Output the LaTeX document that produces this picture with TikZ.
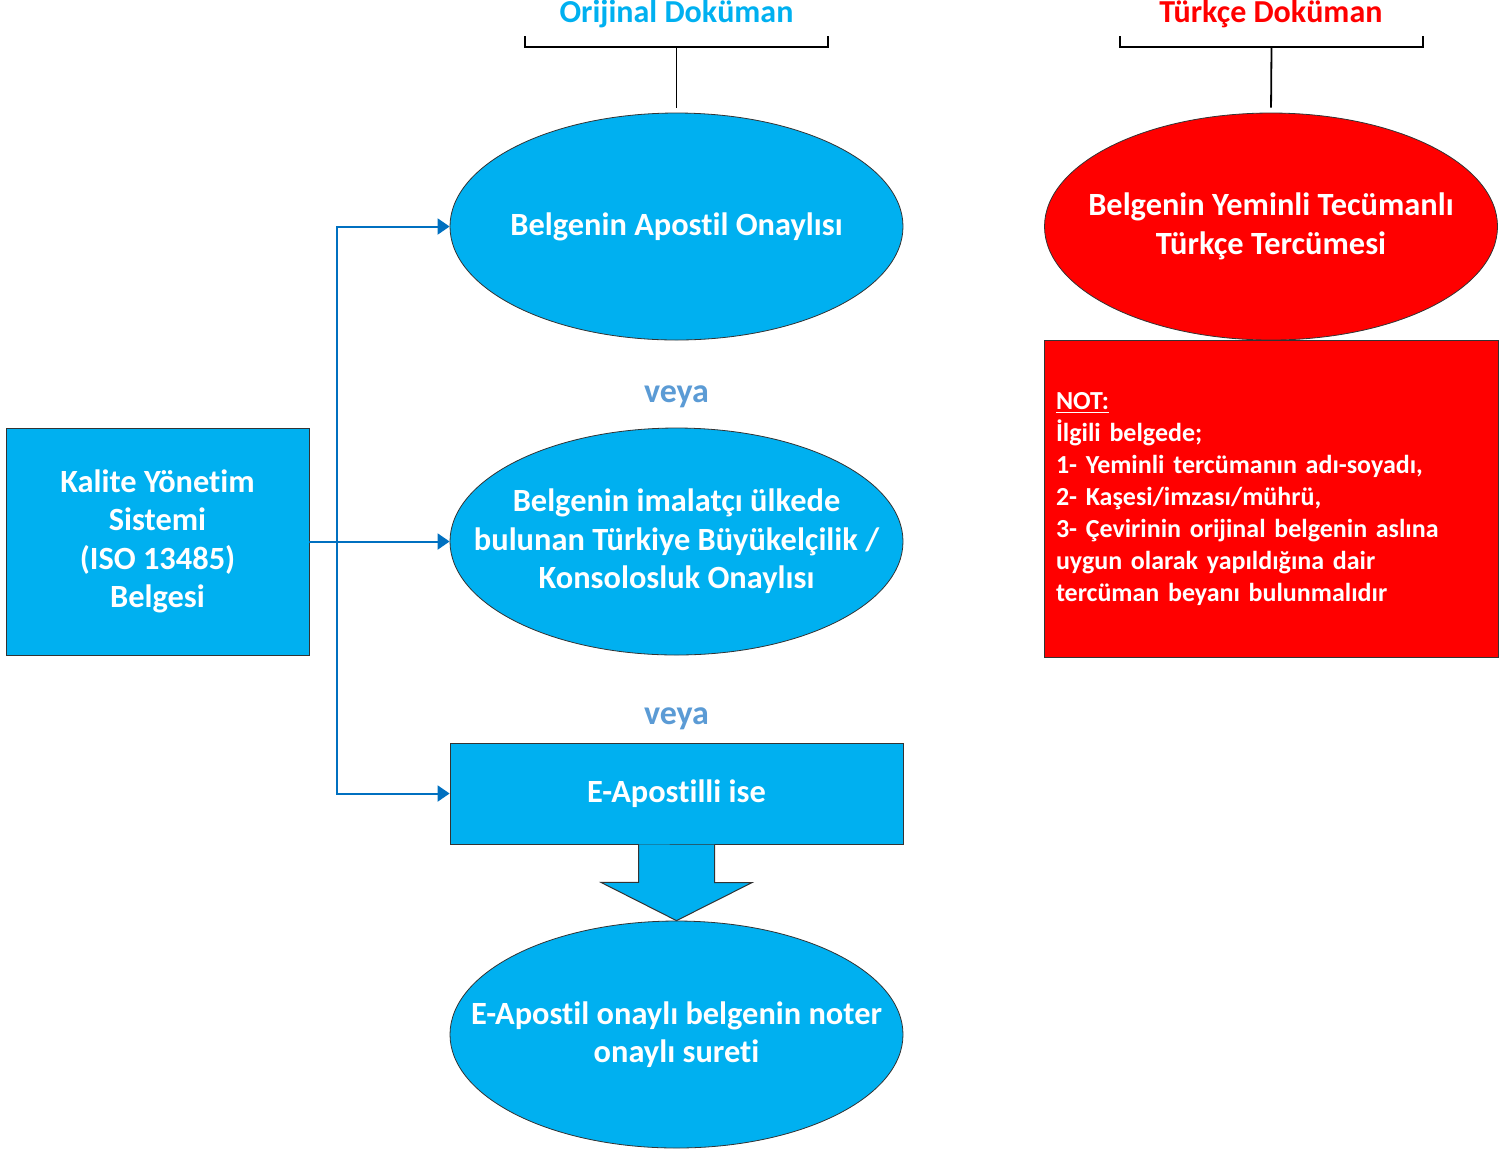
\documentclass[tikz,border=0pt]{standalone}
\usepackage{fontspec}
\setmainfont{Carlito}[Ligatures=NoCommon]
\usepackage{tikz}
\usetikzlibrary{shapes.geometric}
\usetikzlibrary{arrows.meta}
\definecolor{docblue}{RGB}{0,176,240}
\definecolor{docred}{RGB}{255,0,0}
\definecolor{linkblue}{RGB}{0,112,192}
\definecolor{veyablue}{RGB}{91,155,213}
\tikzstyle{doc ellipse}=[ellipse, draw=black!80, fill=docblue, text=white, align=center, minimum width=226.5pt, minimum height=113.5pt, inner xsep=-40pt, inner ysep=0pt, font=\bfseries\fontsize{16.2}{19.25}\selectfont]
\tikzstyle{doc box}=[rectangle, draw=black!80, fill=docblue, text=white, align=center, inner sep=0pt, font=\bfseries\fontsize{16.2}{19.25}\selectfont]
\tikzstyle{title}=[font=\bfseries\fontsize{16}{19.25}\selectfont]
\tikzstyle{veya}=[text=veyablue, font=\bfseries\fontsize{17}{20}\selectfont]
\tikzstyle{arrow}=[-{Triangle[length=6pt,width=8pt]}, draw=linkblue, line width=1pt]
\tikzstyle{bracket}=[draw=black, line width=0.9pt]

\begin{document}
\begin{tikzpicture}[x=0.5pt, y=-0.5pt]
      \useasboundingbox (0,0) rectangle (1510,1153);

      % titles and brackets
      \node[title, text=docblue] (origTitle) at (676.5,14) {Orijinal Doküman};
      \node[title, text=docred] (trTitle) at (1271,14) {Türkçe Doküman};
      \coordinate (origBrace) at (676.5,47);
      \coordinate (trBrace) at (1271.5,47);
      \draw[bracket] (525,36) |- (828,47) -- (828,36);
      \draw[bracket] (1120,36) |- (1423,47) -- (1423,36);

      % left column
      \node[doc box, minimum width=151.5pt, minimum height=113.5pt] (kys) at (157.5,541.5) {Kalite Yönetim\\Sistemi\\(ISO 13485)\\Belgesi};

      % original document
      \node[doc ellipse] (apostil) at (676.5,226.5) {Belgenin Apostil Onaylısı};
      \node[veya] (veya1) at (676.5,397) {veya};
      \node[doc ellipse] (konsolos) at (676.5,541.5) {Belgenin imalatçı ülkede\\bulunan Türkiye Büyükelçilik /\\Konsolosluk Onaylısı};
      \node[veya] (veya2) at (676.5,719) {veya};
      \node[doc box, minimum width=226.5pt, minimum height=50.5pt] (eapostil) at (676.5,793.5) {E-Apostilli ise};
      \node[doc ellipse] (noter) at (676.5,1034.5) {E-Apostil onaylı belgenin noter\\onaylı sureti};

      % turkish document
      \node[doc ellipse, fill=docred] (tercume) at (1271,226.5) {Belgenin Yeminli Tecümanlı\\Türkçe Tercümesi};
      \node[rectangle, draw=black!80, fill=docred, text=white, align=left, text width=215pt, inner sep=6pt, minimum height=158.5pt, anchor=north, font=\bfseries\fontsize{13}{16}\selectfont] (note) at (1271,340) {\underline{NOT:}\\İlgili belgede;\\1- Yeminli tercümanın adı-soyadı,\\2- Kaşesi/imzası/mührü,\\3- Çevirinin orijinal belgenin aslına\\uygun olarak yapıldığına dair\\tercüman beyanı bulunmalıdır};

      \draw[bracket, shorten >=2.5pt] (origBrace) -- (apostil.north);
      \draw[bracket, shorten >=2.5pt] (trBrace) -- (tercume.north);

      \foreach \m in {apostil, konsolos, eapostil}{
        \draw[arrow] (kys.east) -- ++(28,0) |- (\m.west);
      }

      % block arrow
      \filldraw[fill=docblue, draw=black!80, line width=0.5pt] (eapostil.south) ++(-38,0) -- ++(0,38) -- ++(-37.5,0) -- (noter.north) -- ++(75.5,-38) -- ++(-37.5,0) -- ++(0,-38);

    \end{tikzpicture}
\end{document}
